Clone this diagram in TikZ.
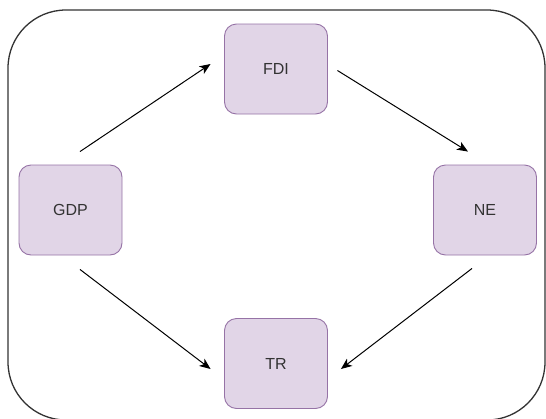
\documentclass[tikz,border=0pt]{standalone}
\usepackage{fontspec}
\setmainfont{Liberation Sans}
\usetikzlibrary{arrows.meta}
\definecolor{boxfill}{HTML}{E1D5E7}
\definecolor{boxline}{HTML}{9673A6}
\definecolor{txt}{HTML}{333333}
\tikzset{
  box/.style={draw=boxline, fill=boxfill, line width=0.9pt, rounded corners=12pt,
    minimum width=103pt, minimum height=90pt, inner sep=0pt,
    font=\fontsize{16pt}{19pt}\selectfont, text=txt},
  arr/.style={draw=black, line width=1pt, -{Stealth[length=11pt,width=9pt,inset=3pt]}},
  frame/.style={draw=black!80, line width=1.3pt, rounded corners=58pt}
}
\begin{document}
\begin{tikzpicture}[x=1pt,y=-1pt]
\useasboundingbox (0,0) rectangle (546,418);
\draw[frame] (8,10) rectangle (545,420);
\node[box] (FDI) at (276,69) {FDI};
\node[box] (GDP) at (70.5,210) {GDP};
\node[box] (NE) at (485,210) {NE};
\node[box] (TR) at (276,363.5) {TR};
\draw[arr] ([xshift=9.5pt,yshift=13pt]GDP.north) -- ([xshift=-13.5pt,yshift=5pt]FDI.west);
\draw[arr] ([xshift=9.5pt,yshift=-1.5pt]FDI.east) -- ([xshift=-17pt,yshift=13pt]NE.north);
\draw[arr] ([xshift=9.5pt,yshift=-14pt]GDP.south) -- ([xshift=-13.5pt,yshift=-5.5pt]TR.west);
\draw[arr] ([xshift=-13pt,yshift=-13pt]NE.south) -- ([xshift=13pt,yshift=-5.5pt]TR.east);
\end{tikzpicture}
\end{document}
